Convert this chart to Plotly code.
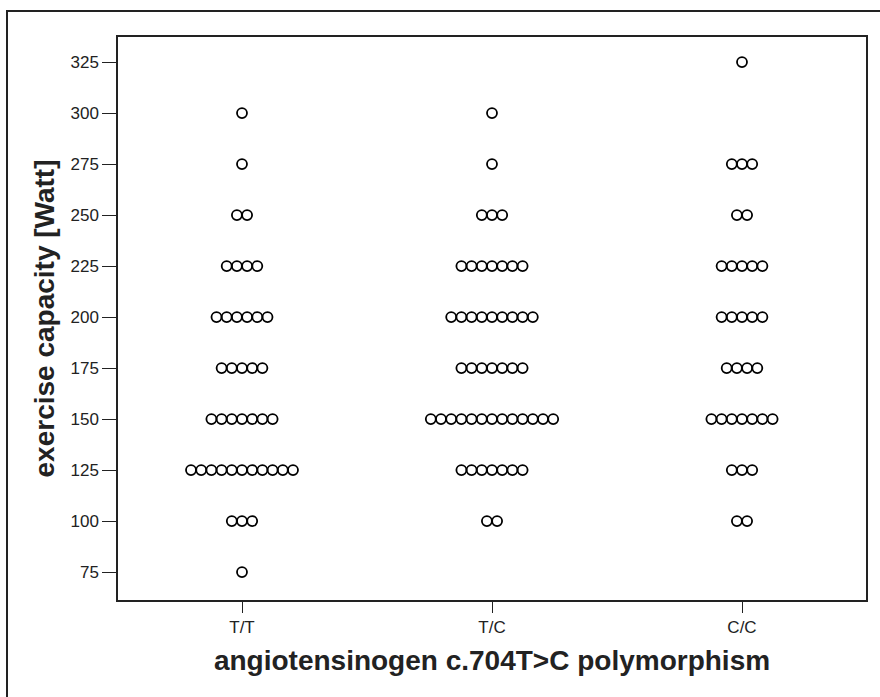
import plotly.graph_objects as go

groups = ["T/T", "T/C", "C/C"]
levels = [75, 100, 125, 150, 175, 200, 225, 250, 275, 300, 325]
# number of subjects at each level, per genotype group
counts_TT = [1, 3, 11, 7, 5, 6, 4, 2, 1, 1, 0]
counts_TC = [0, 2, 7, 13, 7, 9, 7, 3, 1, 1, 0]
counts_CC = [0, 2, 3, 7, 4, 5, 5, 2, 3, 0, 1]
yticks = [75, 100, 125, 150, 175, 200, 225, 250, 275, 300, 325]

W, H = 880, 697
L, R, T, B = 118, 14, 37, 97
xr = [-0.496, 2.496]
plot_w = W - L - R
spacing = 10.2 * (xr[1] - xr[0]) / plot_w  # dot spacing in data units

xs, ys = [], []
for gi, cnts in enumerate([counts_TT, counts_TC, counts_CC]):
    for lv, n in zip(levels, cnts):
        for i in range(n):
            xs.append(gi + (i - (n - 1) / 2) * spacing)
            ys.append(lv)

fig = go.Figure(go.Scatter(
    x=xs, y=ys, mode="markers",
    marker=dict(symbol="circle-open", size=10, color="black", line=dict(width=1.8, color="black")),
    hoverinfo="skip", showlegend=False,
))

font = "Liberation Sans, Arial, sans-serif"
fig.update_layout(
    width=W, height=H,
    margin=dict(l=L, r=R, t=T, b=B),
    paper_bgcolor="white", plot_bgcolor="white",
    font=dict(family=font, color="#222"),
    xaxis=dict(
        range=xr, tickvals=[0, 1, 2], ticktext=groups,
        showgrid=False, zeroline=False,
        showline=True, linecolor="#222", linewidth=1.5, mirror=True,
        ticks="outside", ticklen=11, tickwidth=1, tickcolor="#222",
        tickfont=dict(size=17, family=font, color="#222"),
        title=dict(text="<b>angiotensinogen c.704T>C polymorphism</b>",
                   font=dict(size=28, family=font, color="#222"), standoff=14),
    ),
    yaxis=dict(
        range=[61.3, 337.3], tickvals=yticks,
        showgrid=False, zeroline=False,
        showline=True, linecolor="#222", linewidth=1.5, mirror=True,
        ticks="outside", ticklen=14, tickwidth=1, tickcolor="#222",
        tickfont=dict(size=17, family=font, color="#222"),
        title=dict(text="<b>exercise capacity [Watt]</b>",
                   font=dict(size=28, family=font, color="#222"), standoff=8),
    ),
)

plot_h = H - T - B
def px2paper_x(px):
    return (px - L) / plot_w
def px2paper_y(py):
    return (H - B - py) / plot_h

fig.add_shape(type="rect", xref="paper", yref="paper",
              x0=px2paper_x(7), x1=px2paper_x(890),
              y0=px2paper_y(705), y1=px2paper_y(11),
              line=dict(color="#222", width=2), fillcolor="rgba(0,0,0,0)", layer="below")

fig.write_html("out.html", config={"displayModeBar": False},
               post_script="document.body.style.margin='0';")
